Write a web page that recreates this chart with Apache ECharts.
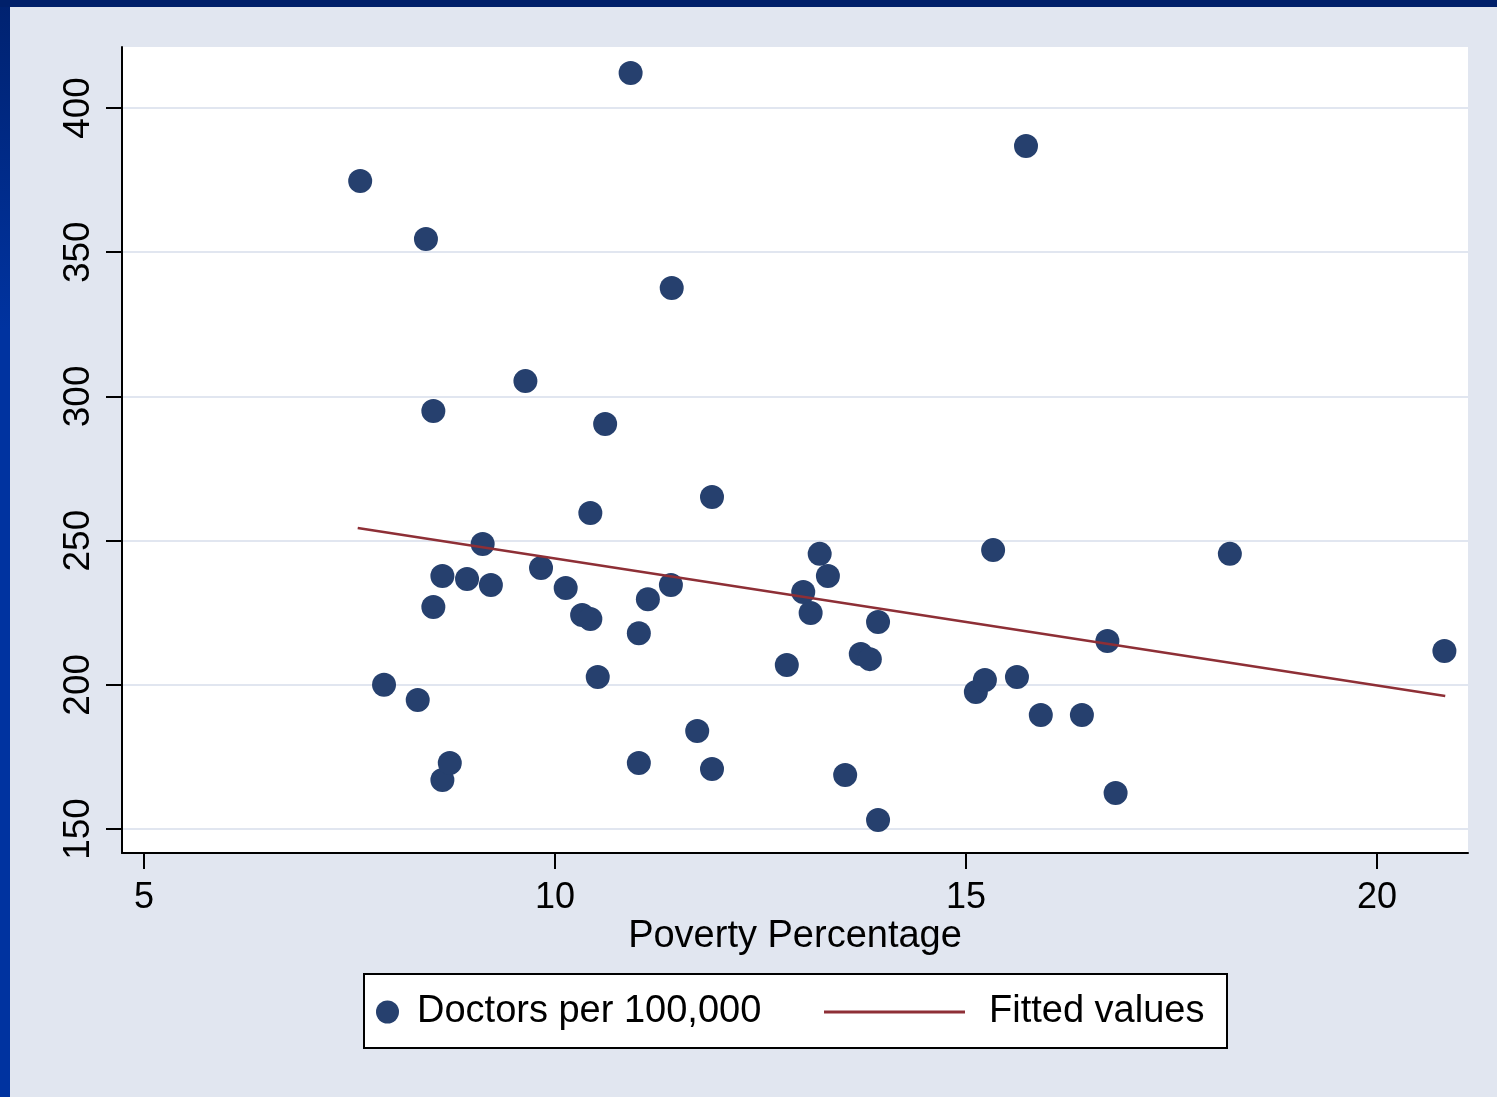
<!DOCTYPE html>
<html>
<head>
<meta charset="utf-8">
<script src="https://cdn.jsdelivr.net/npm/echarts@6/dist/echarts.min.js"></script>
<style>
html,body{margin:0;padding:0;background:#E1E6F0;}
#c{width:1497px;height:1097px;}
</style>
</head>
<body>
<div id="c"></div>
<script>
// Data
const povertyPct = [7.63,8.43,8.52,7.92,8.33,8.63,8.72,8.52,8.63,8.93,9.22,9.12,9.64,9.83,10.13,10.43,10.33,10.43,10.52,10.61,10.92,11.02,11.13,11.02,11.42,11.41,11.73,11.91,11.91,12.82,13.02,13.11,13.22,13.32,13.53,13.72,13.83,13.93,13.93,15.12,15.23,15.33,15.62,15.73,15.91,16.41,16.72,16.82,18.21,20.82];
const doctors = [374.7,354.6,294.9,200.0,194.7,167.0,172.9,227.0,237.7,236.7,234.6,248.8,305.3,240.5,233.6,259.6,224.2,222.8,202.7,290.4,412.1,217.9,229.7,172.9,337.6,234.6,184.0,265.1,170.8,206.9,232.2,224.9,245.4,237.7,168.7,210.7,208.9,221.8,153.1,197.5,201.7,246.7,202.7,386.8,189.5,189.5,215.2,162.5,245.4,211.7];
const fitX = [7.60, 20.83];
const fitY = [254.4, 196.1];
const xTicks = [5, 10, 15, 20];
const yTicks = [150, 200, 250, 300, 350, 400];

const scatterData = povertyPct.map((x, i) => [x, doctors[i]]);
const fitData = fitX.map((x, i) => [x, fitY[i]]);

const FONT = "'Liberation Sans', Arial, sans-serif";
const chart = echarts.init(document.getElementById('c'), null, {renderer: 'canvas'});

// plot region geometry
const L = 122, R = 1468, T = 47, B = 853;
const y150 = 829, y400 = 108, x5 = 144, x20 = 1377;
const pxPerX = (x20 - x5) / (xTicks[3] - xTicks[0]);
const pxPerY = (y150 - y400) / (yTicks[5] - yTicks[0]);
const xMin = xTicks[0] - (x5 - L) / pxPerX;
const xMax = xTicks[0] + (R - x5) / pxPerX;
const yMin = yTicks[0] - (B - y150) / pxPerY;
const yMax = yTicks[5] + (y400 - T) / pxPerY;

chart.setOption({
  backgroundColor: '#E1E6F0',
  animation: false,
  textStyle: {fontFamily: FONT},
  graphic: [
    {type: 'rect', shape: {x: 0, y: 0, width: 10, height: 1097}, style: {fill: new echarts.graphic.LinearGradient(0,0,0,1,[{offset:0,color:'#002270'},{offset:0.3,color:'#0033A0'},{offset:1,color:'#0033A0'}])}, z: 0},
    {type: 'rect', shape: {x: 0, y: 0, width: 1497, height: 7}, style: {fill: '#00206A'}, z: 0},
    {type: 'rect', shape: {x: 364, y: 974, width: 863, height: 74}, style: {fill: '#ffffff', stroke: '#000000', lineWidth: 2}, z: 0}
  ],
  grid: [
    {left: L, top: T, width: R - L, height: B - T, show: true, backgroundColor: '#ffffff', borderWidth: 0},
    {left: L, top: y400, width: R - L, height: y150 - y400, show: false},
    {left: x5, top: B - 40, width: x20 - x5, height: 40, show: false}
  ],
  xAxis: [
    {gridIndex: 0, type: 'value', min: xMin, max: xMax,
     axisLine: {show: true, onZero: false, lineStyle: {color: '#000', width: 2}},
     axisTick: {show: false}, axisLabel: {show: false}, splitLine: {show: false},
     name: 'Poverty Percentage', nameLocation: 'middle', nameGap: 65,
     nameTextStyle: {fontSize: 38, color: '#000', fontFamily: FONT}},
    {gridIndex: 1, type: 'value', min: xMin, max: xMax, show: false},
    {gridIndex: 2, type: 'value', min: xTicks[0], max: xTicks[3], interval: 5,
     axisLine: {show: false},
     axisTick: {show: true, length: 16, lineStyle: {color: '#000', width: 2}},
     axisLabel: {show: true, fontSize: 36, color: '#000', margin: 27, fontFamily: FONT},
     splitLine: {show: false}}
  ],
  yAxis: [
    {gridIndex: 0, type: 'value', min: yMin, max: yMax,
     axisLine: {show: true, onZero: false, lineStyle: {color: '#000', width: 2}},
     axisTick: {show: false}, axisLabel: {show: false}, splitLine: {show: false}},
    {gridIndex: 1, type: 'value', min: yTicks[0], max: yTicks[5], interval: 50,
     axisLine: {show: false},
     axisTick: {show: true, length: 16, lineStyle: {color: '#000', width: 2}},
     axisLabel: {show: true, rotate: 90, fontSize: 37, color: '#000', margin: 25, fontFamily: FONT},
     splitLine: {show: true, lineStyle: {color: '#E1E6F0', width: 2}}},
    {gridIndex: 2, type: 'value', show: false}
  ],
  legend: [
    {left: 376, top: 993, padding: 0, itemWidth: 25, itemHeight: 23, icon: 'circle',
     data: ['Doctors per 100,000'],
     textStyle: {fontSize: 38, color: '#000', fontFamily: FONT, padding: [0, 0, 0, 12]}},
    {left: 824, top: 993, padding: 0, itemWidth: 141, itemHeight: 3, icon: 'rect',
     data: ['Fitted values'],
     textStyle: {fontSize: 38, color: '#000', fontFamily: FONT, padding: [0, 0, 0, 19]}}
  ],
  series: [
    {name: 'Doctors per 100,000', type: 'scatter', xAxisIndex: 0, yAxisIndex: 0,
     data: scatterData, symbol: 'circle', symbolSize: 24,
     itemStyle: {color: '#26406E', opacity: 1}, z: 3},
    {name: 'Fitted values', type: 'line', xAxisIndex: 0, yAxisIndex: 0,
     data: fitData, symbol: 'none', showSymbol: false,
     lineStyle: {color: '#8E2F36', width: 2.5}, itemStyle: {color: '#8E2F36'}, z: 4}
  ]
});
</script>
</body>
</html>
